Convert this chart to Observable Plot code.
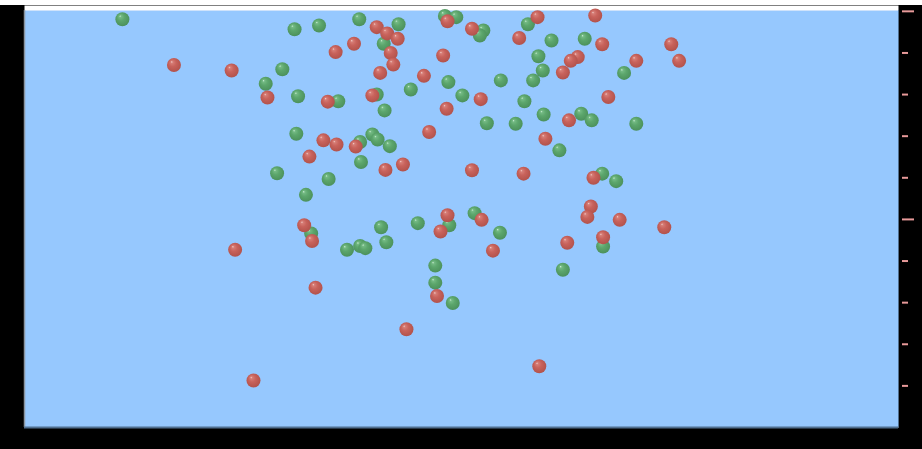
<!DOCTYPE html>
<html>
<head>
<meta charset="utf-8">
<script src="https://cdn.jsdelivr.net/npm/d3@7"></script>
<script src="https://cdn.jsdelivr.net/npm/@observablehq/plot@0.6"></script>
<style>
  html, body { margin: 0; padding: 0; background: #ffffff; }
  #chart svg { display: block; }
</style>
</head>
<body>
<div id="chart"></div>
<script>
// Green series
const greenX = [11.2, 30.9, 33.7, 38.3, 42.8, 41.1, 48.1, 49.4, 52.5, 52.1, 57.6, 60.3, 64.1, 58.8, 59.3, 58.2, 68.6, 54.5, 48.5, 44.2, 50.1, 57.2, 59.4, 63.7, 64.9, 70.0, 52.9, 56.2, 61.2, 29.5, 27.6, 31.3, 35.9, 40.3, 41.2, 31.1, 38.4, 39.8, 40.4, 41.8, 38.5, 28.9, 34.8, 32.2, 32.8, 36.9, 38.4, 39.0, 40.8, 41.4, 45.0, 48.6, 51.5, 54.4, 66.1, 67.7, 66.2, 61.6, 47.0, 47.0, 49.0];
const greenY = [9.81, 9.57, 9.66, 9.81, 9.69, 9.22, 9.89, 9.86, 9.54, 9.42, 9.69, 9.30, 9.34, 8.92, 8.58, 8.34, 8.52, 8.34, 8.30, 8.12, 7.98, 7.84, 7.52, 7.54, 7.38, 7.30, 7.31, 7.30, 6.66, 8.61, 8.26, 7.96, 7.84, 8.00, 7.62, 7.06, 6.86, 7.04, 6.92, 6.76, 6.38, 6.11, 5.97, 5.59, 4.66, 4.27, 4.36, 4.31, 4.81, 4.45, 4.91, 4.86, 5.15, 4.68, 6.10, 5.92, 4.35, 3.79, 3.89, 3.48, 2.99];
// Red series
const redX = [17.1, 23.7, 27.8, 40.3, 41.5, 42.7, 37.7, 35.6, 41.9, 42.2, 40.7, 34.7, 39.8, 34.2, 35.7, 37.9, 32.6, 48.4, 51.2, 58.7, 65.3, 56.6, 66.1, 74.0, 74.9, 47.9, 63.3, 62.5, 70.0, 61.6, 45.7, 52.2, 66.8, 48.3, 62.3, 46.3, 59.6, 43.3, 41.3, 32.0, 32.9, 24.1, 33.3, 47.6, 48.4, 52.3, 53.6, 51.2, 57.1, 65.1, 64.8, 64.4, 68.1, 73.2, 62.1, 66.2, 47.2, 43.7, 26.2, 58.9];
const redY = [8.71, 8.58, 7.93, 9.62, 9.47, 9.34, 9.22, 9.02, 9.00, 8.72, 8.52, 7.83, 7.98, 6.90, 6.80, 6.75, 6.51, 9.76, 9.58, 9.86, 9.90, 9.36, 9.21, 9.21, 8.81, 8.94, 8.90, 8.81, 8.81, 8.53, 8.45, 7.89, 7.94, 7.66, 7.38, 7.10, 6.94, 6.32, 6.19, 4.86, 4.48, 4.27, 3.36, 4.71, 5.10, 4.99, 4.25, 6.18, 6.10, 6.00, 5.31, 5.06, 4.99, 4.81, 4.44, 4.57, 3.16, 2.36, 1.13, 1.47];
// Axis ticks (right side)
const minorTicks = [1, 2, 3, 4, 6, 7, 8, 9];
const majorTicks = [5, 10];

const greens = greenX.map((x, i) => ({x, y: greenY[i]}));
const reds = redX.map((x, i) => ({x, y: redY[i]}));

const tickColor = "#e89a9a";

const chart = Plot.plot({
  width: 922,
  height: 449,
  marginTop: 10,
  marginLeft: 24,
  marginRight: 24,
  marginBottom: 22,
  x: {domain: [0, 100], axis: null},
  y: {domain: [0, 10.02], axis: null},
  style: {background: "linear-gradient(to bottom, #ffffff 0px, #ffffff 5px, #000000 5px)"},
  marks: [
    Plot.frame({fill: "#ffffff", stroke: null, insetTop: -5}),
    Plot.frame({fill: "#96c8fe", stroke: null}),
    Plot.ruleY([10.02], {stroke: "#cfe3fb", strokeWidth: 1}),
    Plot.ruleX([0], {stroke: "#8a95a0", strokeWidth: 1.5}),
    Plot.ruleX([100], {stroke: "#4f6f8f", strokeWidth: 1}),
    Plot.ruleY([0], {stroke: "#4f6f8f", strokeWidth: 2}),
    Plot.axisY(minorTicks, {anchor: "right", tickSize: 6, dx: 3, stroke: tickColor, strokeWidth: 2, tickFormat: () => "", label: null}),
    Plot.axisY(majorTicks, {anchor: "right", tickSize: 12, dx: 3, stroke: tickColor, strokeWidth: 2, tickFormat: () => "", label: null}),
    Plot.dot(greens, {x: "x", y: "y", r: 7, fill: "url(#ballGreen)", stroke: null}),
    Plot.dot(reds, {x: "x", y: "y", r: 7, fill: "url(#ballRed)", stroke: null})
  ]
});

const svg = d3.select(chart);
const defs = svg.insert("defs", ":first-child");
function ball(id, stops) {
  const g = defs.append("radialGradient")
    .attr("id", id)
    .attr("cx", "48%").attr("cy", "45%").attr("r", "58%")
    .attr("fx", "33%").attr("fy", "27%");
  stops.forEach(([o, c]) => g.append("stop").attr("offset", o).attr("stop-color", c));
}
ball("ballRed", [["0%", "#f3cfcb"], ["14%", "#d67d76"], ["45%", "#c8625b"], ["100%", "#b0514a"]]);
ball("ballGreen", [["0%", "#cdeed5"], ["14%", "#74ba84"], ["45%", "#5ca66c"], ["100%", "#4a8f5a"]]);

document.getElementById("chart").appendChild(chart);
</script>
</body>
</html>
